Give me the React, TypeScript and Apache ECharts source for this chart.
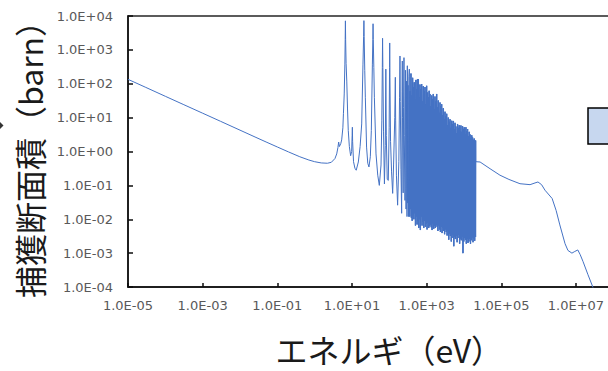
import React, { useEffect, useRef } from "react";
import * as echarts from "echarts";

// Thermal / epithermal region (eV, barn)
const thermalE = [1e-5, 3e-5, 1e-4, 3e-4, 1e-3, 3e-3, 1e-2, 0.0253, 0.05, 0.1, 0.2, 0.4, 0.7, 1.0, 1.5, 2.2, 2.8, 3.5];
const thermalXS = [135, 78, 42.6, 24.6, 13.5, 7.8, 4.27, 2.68, 1.91, 1.36, 0.97, 0.7, 0.56, 0.5, 0.46, 0.45, 0.48, 0.62];

// Isolated resonances (eV, barn)
const lowResE = [3.9, 4.2, 4.4, 4.6, 5.0, 5.3, 5.7, 5.9, 6.2, 6.45, 6.58, 6.67, 6.76, 6.95, 7.25, 7.6, 7.95, 8.5, 9.2, 9.8, 10.1, 10.24, 10.4, 11.0, 12.0, 13.0, 14.8, 16.5, 18.2, 19.7, 20.5, 20.87, 21.2, 22.0, 22.8, 24.6, 26.5, 28.5, 31.0, 33.0, 35.2, 36.2, 36.68, 37.2, 38.5, 39.8, 44, 49, 54, 60, 63, 65, 66.0, 67.2, 70, 74, 78, 80.75, 83, 88, 94, 99, 101.5, 102.5, 104, 108, 115, 123, 130, 140, 145, 148, 155, 167, 180, 188, 193, 197];
const lowResXS = [0.85, 1.3, 1.9, 1.4, 1.7, 2.2, 5.0, 13, 50, 380, 2000, 7200, 2000, 400, 120, 18, 4.2, 1.4, 0.75, 1.0, 3.0, 5.2, 2.0, 0.5, 0.32, 0.28, 0.49, 1.4, 6.5, 380, 2500, 7300, 2500, 250, 40, 1.35, 0.45, 0.35, 0.7, 4.2, 380, 2000, 5900, 2000, 300, 40, 0.85, 0.2, 0.1, 0.4, 8, 300, 2200, 300, 4, 0.11, 1.5, 270, 3, 0.15, 0.14, 5, 300, 1600, 150, 2, 0.25, 0.058, 0.4, 10, 155, 8, 0.2, 0.026, 0.5, 40, 660, 30];

// Dense resolved-resonance region (eV, barn)
const denseE = [205, 214, 220, 223, 226, 235, 241, 247, 252, 263, 272, 281, 291, 298, 304, 311, 319, 327, 335, 344, 352, 361, 370, 380, 390, 400, 410, 421, 432, 443, 454, 466, 478, 490, 502, 515, 528, 541, 555, 569, 584, 599, 614, 630, 646, 662, 679, 697, 715, 735, 754, 774, 794, 815, 836, 858, 880, 903, 927, 951, 976, 1000, 1026, 1053, 1080, 1108, 1137, 1167, 1197, 1228, 1260, 1293, 1327, 1362, 1397, 1434, 1471, 1509, 1549, 1589, 1631, 1673, 1717, 1762, 1808, 1855, 1903, 1953, 2004, 2057, 2110, 2165, 2222, 2280, 2339, 2400, 2463, 2527, 2593, 2661, 2730, 2802, 2875, 2950, 3027, 3106, 3187, 3270, 3356, 3443, 3533, 3626, 3720, 3817, 3917, 4019, 4124, 4232, 4342, 4456, 4572, 4691, 4814, 4939, 5068, 5201, 5336, 5476, 5619, 5765, 5916, 6070, 6229, 6391, 6558, 6730, 6906, 7086, 7271, 7461, 7656, 7856, 8061, 8272, 8488, 8709, 8937, 9170, 9410, 9656, 9908, 10167, 10432, 10705, 10984, 11271, 11565, 11868, 12178, 12496, 12822, 13157, 13500, 13853, 14215, 14586, 14967, 15358, 15759, 16171, 16593, 17027, 17471, 17928, 18396, 18876, 19369, 19875, 20400, 20500];
const denseXS = [0.3, 0.015, 60, 470, 10, 0.06, 20, 590, 3, 0.036, 250, 0.02, 120, 0.012, 340, 0.03, 90, 0.012, 160, 270, 0.012, 60, 0.02, 200, 0.011, 45, 0.009, 150, 0.014, 80, 0.01, 110, 0.015, 35, 0.0065, 130, 0.012, 70, 0.007, 138, 0.009, 138, 0.0055, 40, 0.01, 95, 0.0048, 70, 0.012, 98, 0.0065, 30, 0.0085, 85, 0.0055, 60, 0.009, 80, 0.006, 25, 0.0075, 87, 0.005, 55, 0.008, 40, 0.0055, 62, 0.0062, 50, 0.007, 22, 0.0058, 45, 0.0048, 35, 0.0075, 50, 0.0052, 18, 0.0065, 42, 0.0055, 30, 0.0068, 50, 0.006, 20, 0.0045, 32, 0.0065, 14, 0.005, 28, 0.0042, 22, 0.006, 25, 0.0039, 12, 0.0055, 19, 0.0045, 9, 0.0036, 15, 0.005, 11, 0.0042, 13, 0.0033, 6, 0.0045, 10, 0.0025, 7.5, 0.0038, 9, 0.0032, 5, 0.0022, 8.1, 0.0035, 6.5, 0.0028, 8, 0.0016, 4.5, 0.003, 7, 0.0026, 5.5, 0.0032, 3.5, 0.0021, 6.5, 0.0028, 5, 0.0035, 6, 0.0019, 4, 0.0027, 5.9, 0.0024, 3.8, 0.0031, 5.6, 0.001, 4.5, 0.0022, 5.2, 0.0028, 3.2, 0.0025, 5.2, 0.0019, 4, 0.0026, 4.6, 0.002, 2.8, 0.0022, 3.8, 0.0026, 3.2, 0.0019, 2.4, 0.0024, 3, 0.0029, 2.6, 0.0021, 2.2, 0.0027, 2.4, 0.0023, 2.1, 0.003, 2.1];

// Unresolved / fast region (eV, barn)
const fastE = [20600, 27000, 50000, 92000, 160000, 316000, 590000, 800000, 960000, 1.2e6, 1.48e6, 2.3e6, 2.95e6, 3.7e6, 5.1e6, 6.1e6, 7.8e6, 9.3e6, 1.12e7, 1.3e7, 1.55e7, 2.1e7, 2.9e7, 3.0e7];
const fastXS = [0.5, 0.49, 0.31, 0.2, 0.15, 0.112, 0.105, 0.118, 0.126, 0.105, 0.072, 0.041, 0.018, 0.0068, 0.0019, 0.0012, 0.001, 0.00112, 0.00124, 0.0009, 0.00056, 0.00023, 0.000093, 0.000085];

// Axis settings (exponents of 10)
const xMinExp = -5;
const xMaxExp = 9;
const yMin = 1e-4;
const yMax = 1e4;

const xTitle = "エネルギ（eV）";
const yTitle = "捕獲断面積（barn）";

const fmtExp = (exp: number) =>
  "1.0E" + (exp < 0 ? "-" : "+") + String(Math.abs(exp)).padStart(2, "0");

// The original chart is wider than the visible window; it is cropped on the right.
const CHART_W = 680;
const CHART_H = 371;

export default function App() {
  const ref = useRef<HTMLDivElement>(null);
  useEffect(() => {
    const chart = echarts.init(ref.current!, null, { renderer: "svg" });
    const toPairs = (es: number[], xs: number[]) =>
      es.map((e, i) => [Math.log10(e) - xMinExp, xs[i]]);
    const densePairs = toPairs(denseE, denseXS);
    const data = [
      ...toPairs(thermalE, thermalXS),
      ...toPairs(lowResE, lowResXS),
      ...densePairs,
      ...toPairs(fastE, fastXS),
    ];
    const axisColor = "#0d0d0d";
    const labelStyle = {
      color: "#595959",
      fontFamily: "DejaVu Sans",
      fontSize: 13,
    };
    const nameStyle = {
      color: "#1a1a1a",
      fontFamily: "Noto Sans CJK JP",
      fontSize: 32,
      lineHeight: 34,
    };
    const plotW = 37.33 * (xMaxExp - xMinExp);
    chart.setOption({
      animation: false,
      grid: {
        left: 128,
        top: 16,
        right: CHART_W - 128 - plotW,
        bottom: CHART_H - 289,
        show: true,
        borderColor: "#262626",
        borderWidth: 1.5,
      },
      xAxis: {
        type: "value",
        min: 0,
        max: xMaxExp - xMinExp,
        interval: 2,
        axisLine: { show: true, onZero: false, lineStyle: { color: axisColor, width: 1.5 } },
        axisTick: { show: true, inside: true, length: 4, lineStyle: { color: axisColor, width: 1.5 } },
        axisLabel: {
          ...labelStyle,
          margin: 12,
          showMaxLabel: false,
          formatter: (v: number) => fmtExp(Math.round(v) + xMinExp),
        },
        splitLine: { show: false },
        name: xTitle,
        nameLocation: "middle",
        nameGap: 45,
        nameTextStyle: nameStyle,
      },
      yAxis: {
        type: "log",
        logBase: 10,
        min: yMin,
        max: yMax,
        axisLine: { show: true, lineStyle: { color: axisColor, width: 1.5 } },
        axisTick: { show: true, inside: true, length: 5, lineStyle: { color: axisColor, width: 1.5 } },
        axisLabel: {
          ...labelStyle,
          margin: 15,
          formatter: (v: number) => fmtExp(Math.round(Math.log10(v))),
        },
        splitLine: { show: false },
        minorTick: { show: false },
        name: yTitle,
        nameLocation: "middle",
        nameGap: 80,
        nameTextStyle: nameStyle,
      },
      series: [
        {
          type: "line",
          data,
          showSymbol: false,
          symbol: "none",
          clip: true,
          lineStyle: { color: "#4472C4", width: 1 },
        },
        {
          type: "line",
          data: densePairs.slice(20),
          showSymbol: false,
          symbol: "none",
          clip: true,
          lineStyle: { color: "#4472C4", width: 1.4 },
        },
      ],
      graphic: [
        {
          type: "rect",
          shape: { x: 588, y: 108, width: 40, height: 36 },
          style: { fill: "#c7d7ef", stroke: "#000", lineWidth: 1.5 },
        },
        {
          type: "polygon",
          shape: { points: [[0, 122], [3.5, 125.5], [0, 129]] },
          style: { fill: "#333" },
        },
      ],
    });
    return () => chart.dispose();
  }, []);
  return (
    <div style={{ position: "absolute", left: 0, top: 0, width: 608, height: 371, overflow: "hidden" }}>
      <div ref={ref} style={{ width: CHART_W, height: CHART_H }} />
    </div>
  );
}
